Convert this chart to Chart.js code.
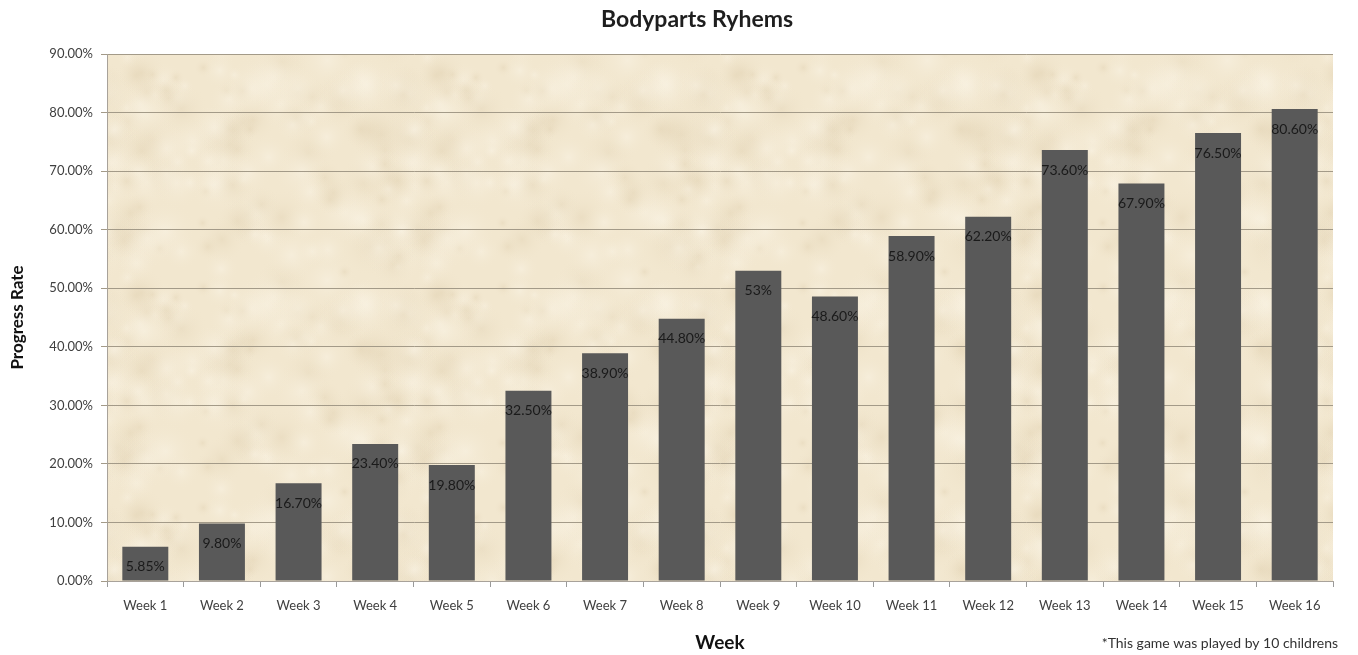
<!DOCTYPE html>
<html>
<head>
<meta charset="utf-8">
<script src="https://cdn.jsdelivr.net/npm/chart.js@4.4.1/dist/chart.umd.min.js"></script>
<style>
  html, body { margin: 0; padding: 0; background: #fff; }
  #wrap { width: 1358px; height: 655px; position: relative; }
</style>
</head>
<body>
<div id="wrap"><canvas id="grafico"></canvas></div>
<script>
// ====== DADOS ======
const semanas = ["Week 1", "Week 2", "Week 3", "Week 4", "Week 5", "Week 6", "Week 7", "Week 8",
  "Week 9", "Week 10", "Week 11", "Week 12", "Week 13", "Week 14", "Week 15", "Week 16"];
const progresso = [5.85, 9.8, 16.7, 23.4, 19.8, 32.5, 38.9, 44.8, 53, 48.6, 58.9, 62.2, 73.6, 67.9, 76.5, 80.6];
const ticksY = [0, 10, 20, 30, 40, 50, 60, 70, 80, 90];

const FONTE = "Lato, 'Open Sans', sans-serif";

function formatar(v) {
  return Number.isInteger(v) ? v + "%" : v.toFixed(2) + "%";
}

// ====== TEXTURA (papel) ======
function criarTextura() {
  const W = 300, H = 220;
  const c = document.createElement("canvas");
  c.width = W; c.height = H;
  const g = c.getContext("2d");
  g.fillStyle = "#f2e7cf";
  g.fillRect(0, 0, W, H);
  const hash = (n) => { const s = Math.sin(n * 127.1) * 43758.5453; return s - Math.floor(s); };
  for (let i = 0; i < 150; i++) {
    const x = hash(i + 1) * W;
    const y = hash(i + 101) * H;
    const r = 8 + hash(i + 201) * 26;
    const claro = hash(i + 301) > 0.5;
    // repete nas bordas para o padrão emendar sem costura
    for (const dx of [-W, 0, W]) {
      for (const dy of [-H, 0, H]) {
        const grad = g.createRadialGradient(x + dx, y + dy, 0, x + dx, y + dy, r);
        grad.addColorStop(0, claro ? "rgba(250,244,230,0.5)" : "rgba(224,208,176,0.4)");
        grad.addColorStop(1, "rgba(242,231,207,0)");
        g.fillStyle = grad;
        g.beginPath(); g.arc(x + dx, y + dy, r, 0, Math.PI * 2); g.fill();
      }
    }
  }
  return c;
}

const fundoPlugin = {
  id: "fundo",
  beforeDraw(chart) {
    const { ctx, chartArea: a } = chart;
    ctx.save();
    ctx.fillStyle = ctx.createPattern(criarTextura(), "repeat");
    ctx.fillRect(a.left, a.top, a.right - a.left, a.bottom - a.top);
    ctx.restore();
  },
  afterDraw(chart) {
    const { ctx } = chart;
    ctx.save();
    ctx.fillStyle = "#1e1e1e";
    ctx.textBaseline = "middle";
    ctx.textAlign = "center";
    ctx.font = "bold 23px " + FONTE;
    ctx.fillText("Bodyparts Ryhems", 697, 20);
    ctx.textAlign = "right";
    ctx.font = "14px " + FONTE;
    ctx.fillStyle = "#333";
    ctx.fillText("*This game was played by 10 childrens", 1338, 643);
    ctx.restore();
  }
};

// rótulos dentro das barras
const rotulosPlugin = {
  id: "rotulos",
  afterDatasetsDraw(chart) {
    const { ctx } = chart;
    const meta = chart.getDatasetMeta(0);
    ctx.save();
    ctx.fillStyle = "#1a1a1a";
    ctx.font = "14px " + FONTE;
    ctx.textAlign = "center";
    ctx.textBaseline = "middle";
    meta.data.forEach((bar, i) => {
      ctx.fillText(formatar(progresso[i]), bar.x, bar.y + 20);
    });
    ctx.restore();
  }
};

// ====== GRÁFICO ======
const ctx = document.getElementById("grafico").getContext("2d");

new Chart(ctx, {
  type: "bar",
  data: {
    labels: semanas,
    datasets: [{
      data: progresso,
      backgroundColor: "#595959",
      barPercentage: 0.6,
      categoryPercentage: 1
    }]
  },
  options: {
    responsive: true,
    maintainAspectRatio: false,
    animation: false,
    layout: { padding: { top: 54, right: 25, left: 0, bottom: 0 } },
    plugins: { legend: { display: false }, tooltip: { enabled: false } },
    scales: {
      x: {
        afterFit: (s) => { s.height = 74; },
        grid: { drawOnChartArea: false, drawTicks: true, tickLength: 6, color: "#9a9a9a", offset: true },
        border: { color: "#a8a29a" },
        ticks: { color: "#404040", font: { family: FONTE, size: 13 }, padding: 11, maxRotation: 0 },
        title: { display: true, text: "Week", color: "#111", font: { family: FONTE, size: 19, weight: "bold" }, padding: { bottom: 1 } }
      },
      y: {
        min: 0,
        max: 90,
        afterFit: (s) => { s.width = 107; },
        afterBuildTicks: (s) => { s.ticks = ticksY.map(v => ({ value: v })); },
        grid: { color: "#a39a88", lineWidth: 1, tickLength: 6 },
        border: { color: "#a8a29a" },
        ticks: {
          color: "#404040",
          font: { family: FONTE, size: 13 },
          padding: 8,
          callback: (v) => v.toFixed(2) + "%"
        },
        title: { display: true, text: "Progress Rate", color: "#111", font: { family: FONTE, size: 17, weight: "bold" }, padding: { top: 7 } }
      }
    }
  },
  plugins: [fundoPlugin, rotulosPlugin]
});
</script>
</body>
</html>
